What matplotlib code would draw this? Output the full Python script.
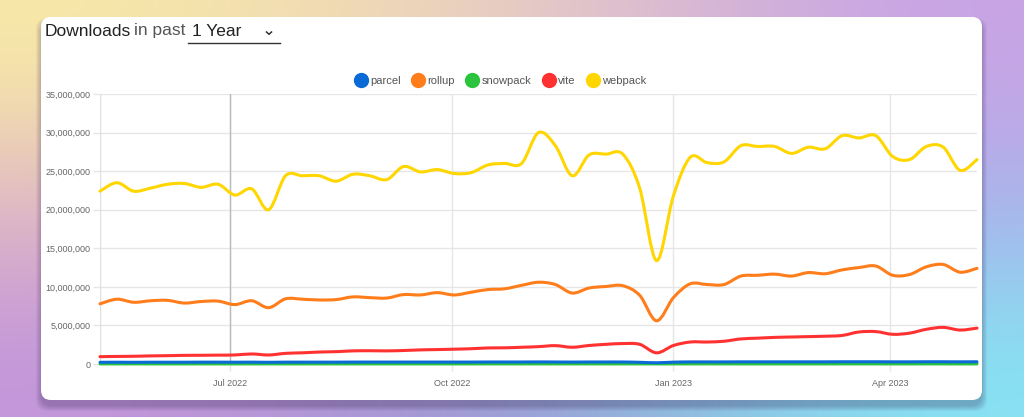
import numpy as np
import pandas as pd
import matplotlib
matplotlib.use('Agg')
import matplotlib.pyplot as plt
import matplotlib.dates as mdates
from matplotlib.patches import FancyBboxPatch, PathPatch
from matplotlib.path import Path
from matplotlib.lines import Line2D
from matplotlib.ticker import FuncFormatter, MultipleLocator

plt.rcParams['font.family'] = ['Liberation Sans', 'DejaVu Sans']

# weekly downloads, millions
weeks = pd.date_range('2022-05-08', periods=53, freq='7D')
names = ['parcel', 'rollup', 'snowpack', 'vite', 'webpack']
colors = ['#0a6ad6', '#ff7d1a', '#2cc43c', '#ff3131', '#ffd600']

webpack = [22.4, 23.5, 22.4, 22.8, 23.3, 23.4, 22.9, 23.3, 21.9, 22.7,
           20.0, 24.4, 24.4, 24.4, 23.7, 24.6, 24.4, 23.9, 25.6, 24.9,
           25.2, 24.7, 24.8, 25.8, 26.0, 26.0, 30.0, 28.3, 24.4, 27.1,
           27.2, 27.2, 22.8, 13.4, 21.8, 26.8, 26.1, 26.2, 28.3, 28.2,
           28.2, 27.3, 28.1, 27.9, 29.6, 29.3, 29.6, 26.9, 26.5, 28.2,
           28.1, 25.1, 26.5]
rollup = [7.8, 8.4, 8.0, 8.2, 8.25, 7.9, 8.1, 8.15, 7.7, 8.2,
          7.3, 8.45, 8.4, 8.3, 8.35, 8.7, 8.6, 8.55, 9.0, 8.95,
          9.25, 8.95, 9.3, 9.65, 9.75, 10.2, 10.6, 10.3, 9.2, 9.85,
          10.05, 10.15, 8.9, 5.6, 8.6, 10.4, 10.3, 10.3, 11.4, 11.5,
          11.65, 11.4, 11.85, 11.7, 12.2, 12.5, 12.7, 11.5, 11.6, 12.6,
          12.9, 11.9, 12.4]
vite = [0.95, 0.98, 1.0, 1.05, 1.08, 1.12, 1.13, 1.15, 1.17, 1.3,
        1.17, 1.38, 1.45, 1.55, 1.6, 1.7, 1.72, 1.7, 1.75, 1.83,
        1.87, 1.92, 1.98, 2.08, 2.1, 2.17, 2.25, 2.38, 2.17, 2.4,
        2.55, 2.65, 2.55, 1.45, 2.4, 2.85, 2.85, 2.95, 3.25, 3.35,
        3.45, 3.5, 3.55, 3.6, 3.7, 4.15, 4.2, 3.85, 4.0, 4.5,
        4.75, 4.4, 4.65]
parcel = [0.22, 0.23, 0.22, 0.23, 0.23, 0.23, 0.24, 0.24, 0.23, 0.24,
          0.22, 0.24, 0.24, 0.24, 0.24, 0.25, 0.25, 0.25, 0.25, 0.25,
          0.25, 0.25, 0.25, 0.26, 0.26, 0.26, 0.27, 0.26, 0.25, 0.26,
          0.26, 0.26, 0.22, 0.16, 0.24, 0.27, 0.27, 0.27, 0.28, 0.28,
          0.28, 0.28, 0.28, 0.28, 0.29, 0.29, 0.29, 0.28, 0.28, 0.29,
          0.29, 0.28, 0.29]
snowpack = [0.01] * 53

series = [parcel, rollup, snowpack, vite, webpack]


def smooth_path(x, y):
    # cubic bezier through the points (Catmull-Rom style tension)
    p = np.column_stack([x, y]).astype(float)
    ext = np.vstack([p[0], p, p[-1]])
    verts = [p[0]]
    codes = [Path.MOVETO]
    for i in range(len(p) - 1):
        p0, p1, p2, p3 = ext[i], ext[i + 1], ext[i + 2], ext[i + 3]
        verts += [p1 + (p2 - p0) / 6, p2 - (p3 - p1) / 6, p2]
        codes += [Path.CURVE4] * 3
    return Path(verts, codes)


W, H = 1024, 417
fig = plt.figure(figsize=(W / 100, H / 100), dpi=100)

# background gradient + card, drawn in pixel coords
bg = fig.add_axes([0, 0, 1, 1])
grid = np.array([
    [[248, 234, 166], [236, 208, 192], [200, 162, 230]],
    [[226, 184, 196], [196, 168, 214], [168, 178, 236]],
    [[196, 150, 220], [150, 146, 204], [134, 230, 244]],
]) / 255.0
bg.imshow(grid, extent=[0, W, H, 0], interpolation='bicubic', aspect='auto')
for k in range(6):
    sh = FancyBboxPatch((41 - k, 20 - k + 3), 941 + 2 * k, 383 + 2 * k,
                        boxstyle='round,pad=0,rounding_size=12',
                        fc='#302050', ec='none', alpha=0.05)
    bg.add_patch(sh)
card = FancyBboxPatch((41, 17), 941, 383, boxstyle='round,pad=0,rounding_size=10',
                      fc='white', ec='none')
bg.add_patch(card)
# dropdown underline and chevron
bg.plot([188, 280], [43, 43], color='#333333', lw=1.0)
bg.plot([266.5, 269, 271.5], [32, 34.3, 32], color='#333333', lw=1.1)
bg.set_xlim(0, W)
bg.set_ylim(H, 0)
bg.axis('off')

fig.text(45 / W, 1 - 31 / H, 'Downloads', fontsize=12.5, color='#222222', va='center')
fig.text(134 / W, 1 - 31 / H, 'in past', fontsize=12.5, color='#555555', va='center')
fig.text(192 / W, 1 - 31 / H, '1 Year', fontsize=12.5, color='#222222', va='center')

ax = fig.add_axes([100 / W, 1 - 364 / H, 877 / W, 270 / H])
xnum = mdates.date2num(weeks)
for i in range(len(names) - 1, -1, -1):
    patch = PathPatch(smooth_path(xnum, series[i]), fc='none', ec=colors[i], lw=2.2,
                      capstyle='round', joinstyle='round', zorder=3 + (len(names) - i),
                      clip_on=False)
    ax.add_patch(patch)

ax.set_xlim(weeks[0], weeks[-1])
ax.set_ylim(0, 35)
ax.yaxis.set_major_locator(MultipleLocator(5))
ax.yaxis.set_major_formatter(FuncFormatter(lambda v, p: f'{int(round(v * 1e6)):,}'))
ax.xaxis.set_major_locator(mdates.MonthLocator(bymonth=[1, 4, 7, 10]))
ax.xaxis.set_major_formatter(mdates.DateFormatter('%b %Y'))
ax.grid(True, color='#e6e6e6', lw=1.0)
ax.set_axisbelow(True)
for s in ax.spines.values():
    s.set_visible(False)
ax.axvline(weeks[0], color='#e0e0e0', lw=1.0, zorder=1)
ax.axvline(pd.Timestamp('2022-07-01'), color='#bbbbbb', lw=1.0, zorder=2)
ax.tick_params(axis='both', colors='#e6e6e6', labelcolor='#666666', labelsize=6.5,
               length=5, width=1.0, pad=2)
ax.tick_params(axis='x', pad=6)

handles = [Line2D([], [], marker='o', ls='none', markersize=10, color=c) for c in colors]
fig.legend(handles, names, loc='center', bbox_to_anchor=(501 / W, 1 - 81 / H), ncol=5,
           frameon=False, fontsize=8, labelcolor='#555555', handletextpad=0.35,
           columnspacing=1.05, handlelength=1.0)

fig.savefig('out.png', dpi=100)
